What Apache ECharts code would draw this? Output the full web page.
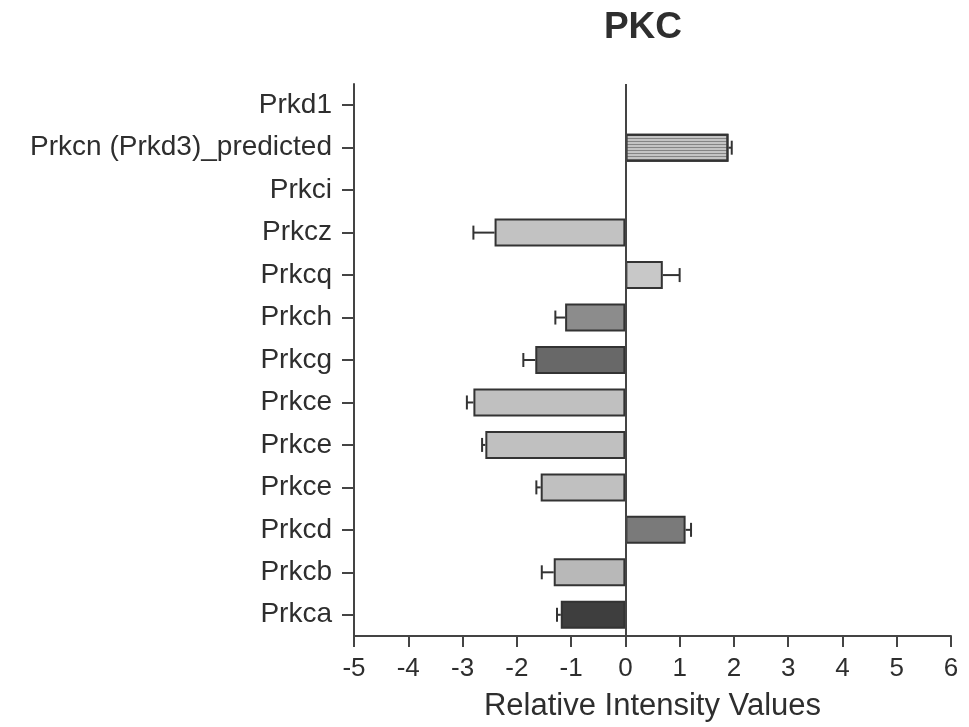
<!DOCTYPE html>
<html><head><meta charset="utf-8">
<script src="https://cdn.jsdelivr.net/npm/echarts@6/dist/echarts.min.js"></script>
<style>html,body{margin:0;padding:0;background:#fff}#c{width:969px;height:727px}</style>
</head><body><div id="c"></div>
<script>
const categories = ['Prkd1','Prkcn (Prkd3)_predicted','Prkci','Prkcz','Prkcq','Prkch','Prkcg','Prkce','Prkce','Prkce','Prkcd','Prkcb','Prkca'];
const values = [null, 1.90, null, -2.41, 0.69, -1.11, -1.66, -2.80, -2.58, -1.56, 1.11, -1.32, -1.19];
const errors = [null, 0.06, null, 0.39, 0.31, 0.18, 0.22, 0.12, 0.06, 0.08, 0.10, 0.22, 0.07];
const xTicks = [-5,-4,-3,-2,-1,0,1,2,3,4,5,6];
const barColors = ['#c0c0c0','#c4c4c4','#c0c0c0','#c2c2c2','#c8c8c8','#8c8c8c','#686868','#c0c0c0','#c0c0c0','#c0c0c0','#7a7a7a','#b8b8b8','#3e3e3e'];

const font = '"Liberation Sans", Arial, sans-serif';
const barData = values.map((v,i)=>{
  const item = {value: v, itemStyle:{color: barColors[i]}};
  if (i === 1) item.itemStyle.decal = {symbol:'rect', dashArrayX:[1,0], dashArrayY:[1,2], rotation:0, color:'rgba(70,70,70,0.5)', symbolSize:1};
  return item;
});
const errData = values.map((v,i)=> v==null ? null : [v, i, errors[i]]).filter(d=>d);

const chart = echarts.init(document.getElementById('c'), null, {renderer:'canvas'});
chart.setOption({
  animation:false,
  backgroundColor:'#fff',
  title:{text:'PKC', left:638, top:4, textAlign:'center',
    textStyle:{fontFamily:font, fontSize:37, fontWeight:'bold', color:'#2e2e2e'}},
  grid:{left:354, right:18, top:84, bottom:91, containLabel:false},
  xAxis:{type:'value', min:-5, max:6, interval:1,
    name:'Relative Intensity Values', nameLocation:'middle', nameGap:55,
    nameTextStyle:{fontFamily:font, fontSize:31, color:'#2e2e2e'},
    axisLine:{show:true, onZero:false, lineStyle:{color:'#444', width:2}},
    axisTick:{show:true, length:11, lineStyle:{color:'#444', width:2}},
    axisLabel:{fontFamily:font, fontSize:26, color:'#2e2e2e', margin:20,
      formatter:v=> xTicks.includes(v) ? String(v) : ''},
    splitLine:{show:false}},
  yAxis:{type:'category', data:categories, inverse:true,
    axisLine:{show:true, onZero:false, lineStyle:{color:'#444', width:2}},
    axisTick:{show:true, alignWithLabel:true, length:12, lineStyle:{color:'#444', width:2}},
    axisLabel:{fontFamily:font, fontSize:28, color:'#2e2e2e', margin:22}},
  series:[
    {type:'bar', data:barData, barWidth:28,
      itemStyle:{borderColor:'#333', borderWidth:2},
      markLine:{silent:true, symbol:'none', label:{show:false},
        lineStyle:{color:'#444', width:2, type:'solid'},
        data:[{xAxis:0}]}},
    {type:'custom', data:errData, z:5,
      renderItem:(params, api)=>{
        const v = api.value(0), idx = api.value(1), e = api.value(2);
        const end = v >= 0 ? v + e : v - e;
        const p0 = api.coord([v, idx]);
        const p1 = api.coord([end, idx]);
        const h = 7;
        return {type:'group', children:[
          {type:'line', shape:{x1:p0[0], y1:p0[1], x2:p1[0], y2:p1[1]}, style:{stroke:'#333', lineWidth:2}},
          {type:'line', shape:{x1:p1[0], y1:p1[1]-h, x2:p1[0], y2:p1[1]+h}, style:{stroke:'#333', lineWidth:2}}
        ]};
      },
      encode:{x:0, y:1}}
  ]
});
</script></body></html>
